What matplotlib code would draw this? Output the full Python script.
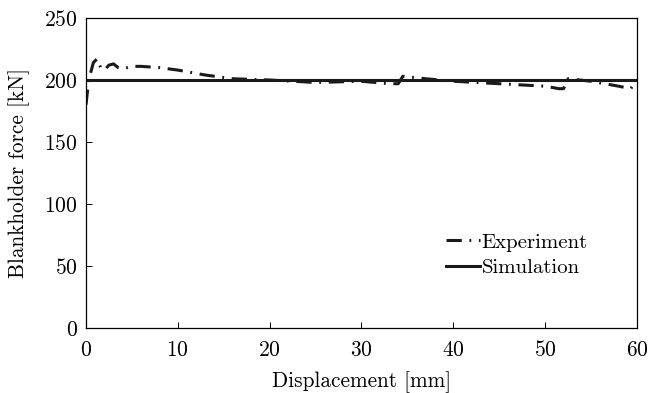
import matplotlib
matplotlib.use("Agg")
import matplotlib.pyplot as plt

plt.rcParams['font.family'] = 'cmr10'
plt.rcParams['mathtext.fontset'] = 'cm'
plt.rcParams['axes.formatter.use_mathtext'] = True

# blankholder force measured during the experiment
exp_disp = [0.0, 0.3, 0.8, 1.2, 1.6, 2.0, 2.5, 3.0, 3.5, 4.0, 5.0, 6.0, 8.0, 10.0,
            13.0, 16.0, 20.0, 25.0, 30.0, 33.0, 34.0, 34.5, 37.0, 40.0, 45.0,
            50.0, 51.5, 52.0, 52.5, 55.0, 58.0, 59.3, 60.0]
exp_force = [180, 200, 214, 217, 210, 208, 212, 213, 210, 209, 211, 211, 210, 208,
             204, 201, 200, 198, 199, 197, 197, 203, 201, 199, 197,
             195, 193, 193, 201, 199, 195, 193, 199]

# constant blankholder force applied in the simulation
sim_disp = [0, 60]
sim_force = [200, 200]

fig = plt.figure(figsize=(6.48, 3.93), dpi=100)
ax = fig.add_axes([0.1327, 0.1654, 0.8503, 0.7888])

ax.plot(exp_disp, exp_force, color='#1a1a1a', lw=2.2, linestyle=(0, (5, 2.5, 0.6, 2.5)),
        label='Experiment')
ax.plot(sim_disp, sim_force, color='#1a1a1a', lw=2.2, label='Simulation')

ax.set_xlim(0, 60)
ax.set_ylim(0, 250)
ax.set_xticks(range(0, 61, 10))
ax.set_yticks(range(0, 251, 50))
for spine in ax.spines.values():
    spine.set_linewidth(0.9)
ax.tick_params(labelsize=15.5, direction='in', length=4, width=0.7, pad=6)
ax.tick_params(axis='x', pad=9)
ax.set_xlabel('Displacement [mm]', fontsize=15.3, labelpad=8)
ax.set_ylabel('Blankholder force [kN]', fontsize=15.3, labelpad=10)

ax.legend(loc='center left', bbox_to_anchor=(0.62, 0.235), frameon=False, fontsize=15,
          handlelength=1.6, handletextpad=0.1, labelspacing=0.35)

fig.savefig('out.png', dpi=100)
